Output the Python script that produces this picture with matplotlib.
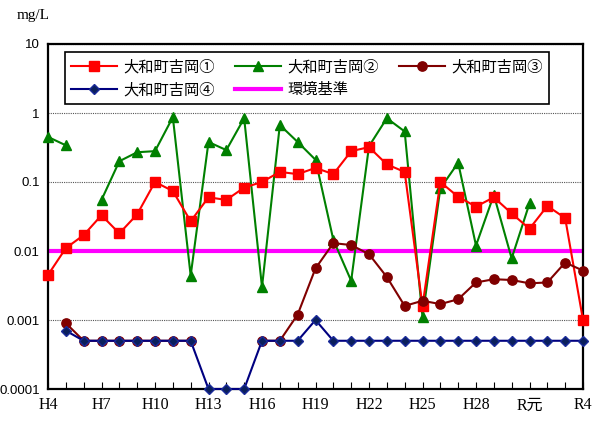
import numpy as np
import matplotlib
matplotlib.use("Agg")
from matplotlib import pyplot as plt

# Years H4 .. H30, R元 .. R4
years = [f"H{n}" for n in range(4, 31)] + ["R元", "R2", "R3", "R4"]
shown_labels = ["H4", "H7", "H10", "H13", "H16", "H19", "H22", "H25", "H28", "R元", "R4"]

nan = np.nan
site1 = [0.0045, 0.011, 0.017, 0.033, 0.018, 0.034, 0.10, 0.074, 0.027, 0.060,
         0.055, 0.083, 0.10, 0.14, 0.13, 0.16, 0.13, 0.28, 0.32, 0.18,
         0.14, 0.0016, 0.10, 0.061, 0.044, 0.060, 0.035, 0.021, 0.045, 0.030,
         0.001]
site2 = [0.45, 0.34, nan, 0.055, 0.20, 0.27, 0.28, 0.87, 0.0044, 0.38,
         0.29, 0.84, 0.003, 0.67, 0.38, 0.21, 0.0145, 0.0037, 0.33, 0.84,
         0.54, 0.0011, 0.081, 0.19, 0.012, 0.065, 0.0078, 0.049, nan, nan,
         nan]
site3 = [nan, 0.0009, 0.0005, 0.0005, 0.0005, 0.0005, 0.0005, 0.0005, 0.0005, nan,
         nan, nan, 0.0005, 0.0005, 0.0012, 0.0056, 0.013, 0.0122, 0.009, 0.0042,
         0.0016, 0.0019, 0.0017, 0.002, 0.0035, 0.0039, 0.0038, 0.0034, 0.0035, 0.0068,
         0.0052]
site4 = [nan, 0.0007, 0.0005, 0.0005, 0.0005, 0.0005, 0.0005, 0.0005, 0.0005, 0.0001,
         0.0001, 0.0001, 0.0005, 0.0005, 0.0005, 0.001, 0.0005, 0.0005, 0.0005, 0.0005,
         0.0005, 0.0005, 0.0005, 0.0005, 0.0005, 0.0005, 0.0005, 0.0005, 0.0005, 0.0005,
         0.0005]
standard = [0.01] * len(years)

series_names = ["大和町吉岡①", "大和町吉岡②", "大和町吉岡③", "大和町吉岡④", "環境基準"]

plt.rcParams["font.family"] = ["Liberation Sans", "Noto Sans CJK JP"]

fig = plt.figure(figsize=(5.93, 4.23), dpi=100)
ax = fig.add_axes((48 / 593, 1 - 389 / 423, 535 / 593, 345 / 423))

x = np.arange(len(years))
l1, = ax.plot(x, site1, color="#FF0000", marker="s", ms=7.2, lw=1.5, clip_on=False, zorder=4)
l2, = ax.plot(x, site2, color="#008000", marker="^", ms=7.5, lw=1.5, clip_on=False, zorder=3)
l3, = ax.plot(x, site3, color="#800000", marker="o", ms=6.7, lw=1.5, clip_on=False, zorder=5)
l4, = ax.plot(x, site4, color="#000080", marker="D", ms=5.6, lw=1.5, mfc="#0a1f5c",
              mec="#1a2a9a", clip_on=False, zorder=6)
l5, = ax.plot(x, standard, color="#FF00FF", lw=3, zorder=2)

ax.set_yscale("log")
ax.set_ylim(0.0001, 10)
ax.set_xlim(0, len(years) - 1)

ax.yaxis.set_major_locator(matplotlib.ticker.FixedLocator([1e-4, 1e-3, 1e-2, 1e-1, 1, 10]))
ax.yaxis.set_minor_locator(matplotlib.ticker.NullLocator())
ax.set_yticklabels(["0.0001", "0.001", "0.01", "0.1", "1", "10"], fontsize=9.5)
ax.tick_params(axis="y", length=0, pad=6)
ax.grid(axis="y", which="major", color="#555555", linestyle=(0, (1, 1)), lw=0.8, zorder=1)

ax.set_xticks(x)
ax.set_xticklabels([y if y in shown_labels else "" for y in years],
                   family=["Liberation Serif", "Noto Sans CJK JP"], fontsize=11.5)
ax.tick_params(axis="x", direction="in", length=5, width=0.8, pad=6)

for spine in ax.spines.values():
    spine.set_linewidth(1.6)
    spine.set_color("black")

handles = [l1, l4, l2, l5, l3]
labels = [series_names[0], series_names[3], series_names[1], series_names[4], series_names[2]]
leg = ax.legend(handles, labels, ncol=3, loc="upper left",
                bbox_to_anchor=(0.032, 0.977, 0.904, 0.0), mode="expand",
                borderaxespad=0, fancybox=False, framealpha=1, edgecolor="black",
                prop={"family": "Noto Sans CJK JP", "size": 11},
                handlelength=3.0, handletextpad=0.4, borderpad=0.4, labelspacing=0.4)
leg.get_frame().set_linewidth(1.2)
leg.set_zorder(10)

fig.text(17 / 593, 1 - 16 / 423, "mg/L", fontsize=11, va="center", ha="left",
         family="Liberation Serif")

fig.savefig("out.png", dpi=100)
